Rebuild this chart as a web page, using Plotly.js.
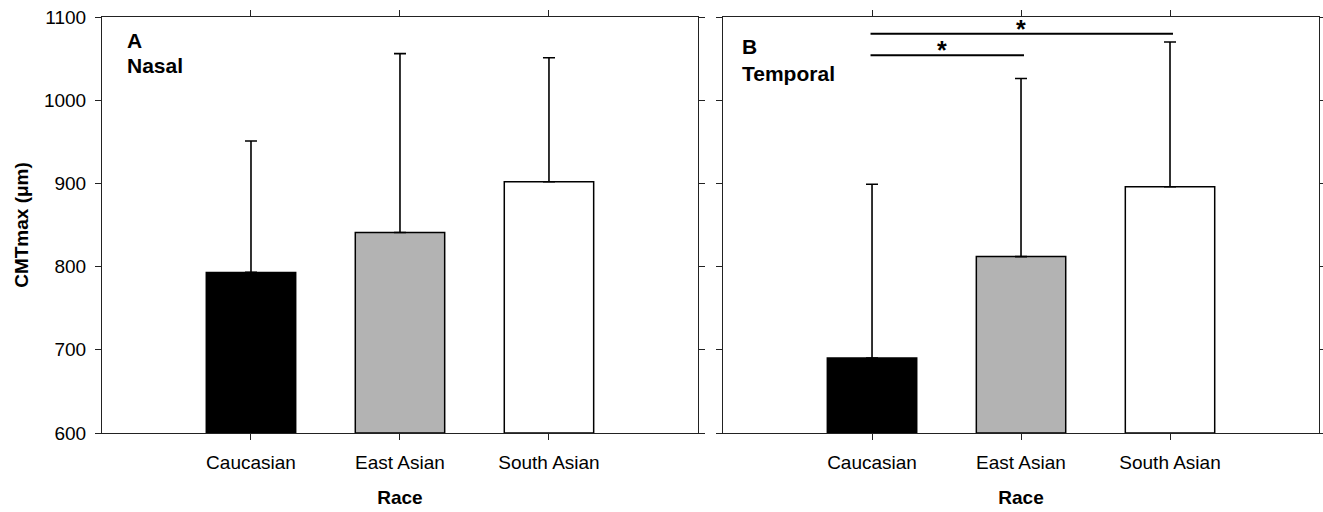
<!DOCTYPE html>
<html>
<head>
<meta charset="utf-8">
<script src="https://cdn.plot.ly/plotly-3.0.1.min.js"></script>
<style>html,body{margin:0;padding:0;background:#fff;}#chart{width:1323px;height:512px;}</style>
</head>
<body>
<div id="chart"></div>
<script>
const categories = ['Caucasian', 'East Asian', 'South Asian'];
const nasalMean = [793, 841, 902];
const nasalErr = [158, 215, 149];
const temporalMean = [690, 812, 896];
const temporalErr = [209, 214, 174];
const barColors = ['#000000', '#b3b3b3', '#ffffff'];
const yTicks = [600, 700, 800, 900, 1000, 1100];
const sigPairs = [[0, 1, '*', 1054], [0, 2, '*', 1080]];
const panelLetters = ['A', 'B'];
const panelNames = ['Nasal', 'Temporal'];

const FONT = 'Liberation Sans, Arial, Helvetica, sans-serif';
const BASE = 600;

function barTrace(means, errs, xa, ya) {
  return {
    type: 'bar', x: categories, y: means.map(v => v - BASE), base: BASE,
    xaxis: xa, yaxis: ya, width: 0.6,
    marker: { color: barColors, line: { color: '#000', width: 1.5 } },
    error_y: { type: 'data', array: errs, arrayminus: errs.map(() => 0), symmetric: false,
      color: '#000', thickness: 1.6, width: 6 },
    showlegend: false, hoverinfo: 'x+y'
  };
}

const t1 = barTrace(nasalMean, nasalErr, 'x', 'y');
const t2 = barTrace(temporalMean, temporalErr, 'x2', 'y2');

const xCommon = {
  type: 'category', range: [-1, 3], showline: true, linecolor: '#222', linewidth: 1,
  mirror: 'ticks', ticks: 'outside', ticklen: 6, tickcolor: '#222', tickwidth: 1,
  tickfont: { family: FONT, size: 19, color: '#000' }, ticklabelstandoff: 6,
  showgrid: false, zeroline: false, fixedrange: true,
  title: { text: '<b>Race</b>', font: { family: FONT, size: 19, color: '#000' }, standoff: 18 }
};
const yCommon = {
  range: [600, 1100], tickvals: yTicks, showline: true, linecolor: '#222', linewidth: 1,
  mirror: 'ticks', ticks: 'outside', ticklen: 6, tickcolor: '#222', tickwidth: 1,
  tickfont: { family: FONT, size: 19, color: '#000' },
  showgrid: false, zeroline: false, fixedrange: true
};

const shapes = [];
const annotations = [];
sigPairs.forEach(([i, j, txt, yv]) => {
  shapes.push({ type: 'line', xref: 'x2', yref: 'y2', x0: i - 0.01, x1: j + 0.02, y0: yv, y1: yv,
    line: { color: '#000', width: 2 } });
  annotations.push({ xref: 'x2', yref: 'y2', x: (i + j) / 2 - (j - i === 1 ? 0.03 : 0), y: yv, text: '<b>' + txt + '</b>', showarrow: false,
    yanchor: 'bottom', yshift: -11, font: { family: FONT, size: 25, color: '#000' } });
});
const labelPos = [
  { xr: 'x domain', yr: 'y domain', x: 0.038, y1: 0.944, y2: 0.884 },
  { xr: 'x2 domain', yr: 'y2 domain', x: 0.028, y1: 0.930, y2: 0.865 }
];
labelPos.forEach((p, k) => {
  annotations.push({ xref: p.xr, yref: p.yr, x: p.x, y: p.y1, xanchor: 'left', yanchor: 'middle',
    showarrow: false, text: '<b>' + panelLetters[k] + '</b>', font: { family: FONT, size: 21, color: '#000' } });
  annotations.push({ xref: p.xr, yref: p.yr, x: p.x, y: p.y2, xanchor: 'left', yanchor: 'middle',
    showarrow: false, text: '<b>' + panelNames[k] + '</b>', font: { family: FONT, size: 21, color: '#000' } });
});

const layout = {
  width: 1323, height: 512,
  margin: { l: 102, r: 4, t: 17, b: 79 },
  paper_bgcolor: '#fff', plot_bgcolor: '#fff',
  font: { family: FONT, color: '#000' },
  xaxis: Object.assign({}, xCommon, { domain: [0, 0.4897], anchor: 'y' }),
  xaxis2: Object.assign({}, xCommon, { domain: [0.5103, 1], anchor: 'y2' }),
  yaxis: Object.assign({}, yCommon, { domain: [0, 1], anchor: 'x', ticklabelstandoff: 5,
    title: { text: '<b>CMTmax (μm)</b>', font: { family: FONT, size: 19, color: '#000' }, standoff: 10 } }),
  yaxis2: Object.assign({}, yCommon, { domain: [0, 1], anchor: 'x2', showticklabels: false }),
  shapes: shapes,
  annotations: annotations
};

Plotly.newPlot('chart', [t1, t2], layout, { displayModeBar: false, staticPlot: true });
</script>
</body>
</html>
